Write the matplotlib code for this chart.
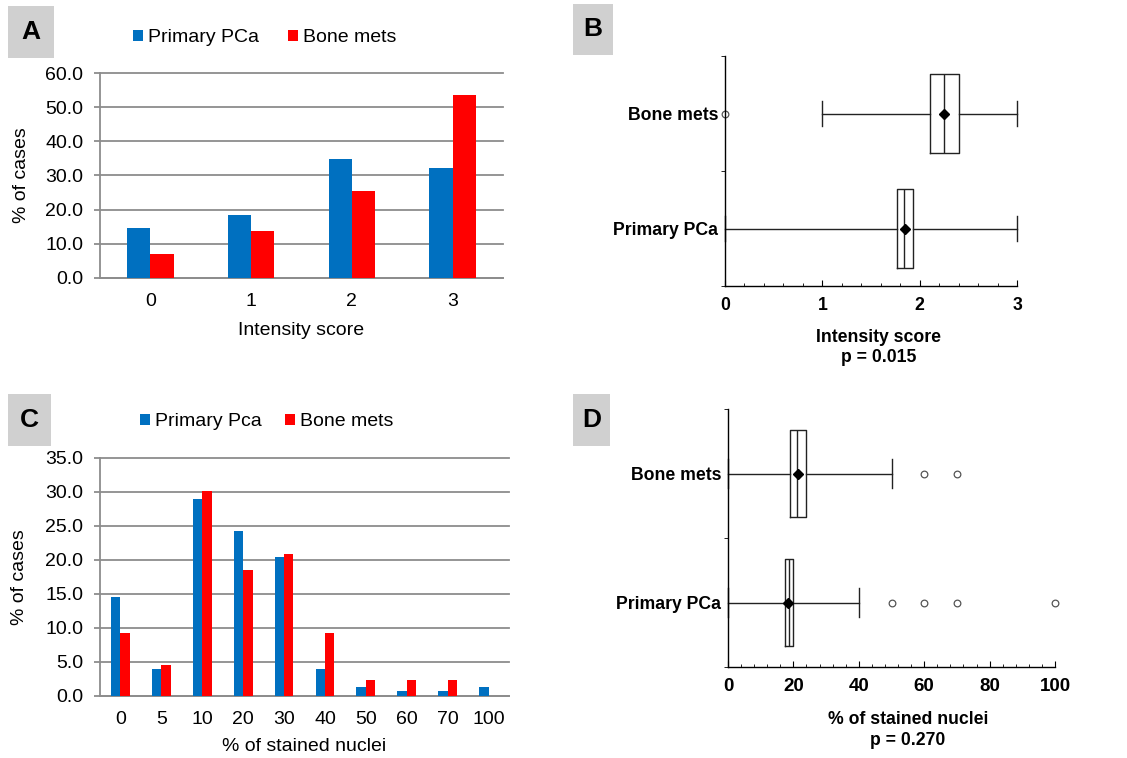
import numpy as np
import matplotlib
matplotlib.use('Agg')
import matplotlib.pyplot as plt
from matplotlib.patches import Rectangle
from matplotlib.ticker import FormatStrFormatter, MultipleLocator

plt.rcParams['font.family'] = ['Liberation Sans', 'DejaVu Sans']

W, H = 1127, 758
BLUE = '#0070C0'
RED = '#FF0000'
GRID = '#8C8C8C'
BOXGRAY = '#D0D0D0'

# Panel A: intensity score distribution (% of cases)
intensity_cats = ['0', '1', '2', '3']
intensity_primary = [14.5, 18.4, 34.7, 32.2]
intensity_bone = [6.9, 13.9, 25.5, 53.5]

# Panel C: % of stained nuclei distribution (% of cases)
nuclei_cats = ['0', '5', '10', '20', '30', '40', '50', '60', '70', '100']
nuclei_primary = [14.5, 3.9, 28.9, 24.3, 20.4, 3.9, 1.3, 0.7, 0.7, 1.3]
nuclei_bone = [9.2, 4.6, 30.2, 18.5, 20.9, 9.2, 2.3, 2.3, 2.3, 0.0]

# Panels B and D: box plot summaries (bottom to top)
box_groups = ['Primary PCa', 'Bone mets']
intensity_box = [
    dict(q1=1.77, med=1.84, q3=1.93, whislo=0.0, whishi=3.0, mean=1.85, fliers=[]),
    dict(q1=2.11, med=2.25, q3=2.40, whislo=1.0, whishi=3.0, mean=2.25, fliers=[0.0]),
]
nuclei_box = [
    dict(q1=17.4, med=18.7, q3=19.8, whislo=0.0, whishi=40.0, mean=18.5, fliers=[50, 60, 70, 100]),
    dict(q1=19.1, med=21.1, q3=23.9, whislo=0.0, whishi=50.0, mean=21.3, fliers=[60, 70]),
]

fig = plt.figure(figsize=(W / 100, H / 100), dpi=100)
fig.patch.set_facecolor('white')


def px_axes(x0, y0, x1, y1):
    return fig.add_axes([x0 / W, 1 - y1 / H, (x1 - x0) / W, (y1 - y0) / H])


def panel_letter(letter, x0, y0, x1, y1):
    fig.add_artist(Rectangle((x0 / W, 1 - y1 / H), (x1 - x0) / W, (y1 - y0) / H,
                             transform=fig.transFigure, facecolor=BOXGRAY, edgecolor='none'))
    fig.text((x0 + x1) / 2 / W, 1 - (y0 + y1) / 2 / H, letter, ha='center', va='center',
             fontsize=19, fontweight='bold')


def bar_panel(rect, cats, prim, bone, ymax, ystep, xlabel, leg_labels, leg_xy, colspace,
              ylab_x, xlab_y):
    ax = px_axes(*rect)
    x = np.arange(len(cats))
    w = 0.23
    ax.bar(x - w / 2, prim, w, color=BLUE, label=leg_labels[0], zorder=3)
    ax.bar(x + w / 2, bone, w, color=RED, label=leg_labels[1], zorder=3)
    ax.set_xlim(-0.5, len(cats) - 0.5)
    ax.set_ylim(0, ymax)
    ax.set_yticks(np.arange(0, ymax + 0.01, ystep))
    ax.yaxis.set_major_formatter(FormatStrFormatter('%.1f'))
    ax.set_xticks(x)
    ax.set_xticklabels(cats)
    ax.grid(axis='y', color=GRID, lw=1.3, zorder=0)
    for gl in ax.get_ygridlines():
        gl.set_clip_on(False)
    for s in ['top', 'right']:
        ax.spines[s].set_visible(False)
    for s in ['left', 'bottom']:
        ax.spines[s].set_color(GRID)
        ax.spines[s].set_linewidth(1.3)
    ax.tick_params(axis='y', colors=GRID, length=4, width=1.3, labelsize=14, labelcolor='black', pad=8)
    ax.tick_params(axis='x', length=0, labelsize=14, pad=11)
    ax.set_ylabel('% of cases', fontsize=14)
    ax.yaxis.set_label_coords(ylab_x, 0.5)
    ax.set_xlabel(xlabel, fontsize=14)
    ax.xaxis.set_label_coords(0.5, xlab_y)
    ax.xaxis.label.set_verticalalignment('center')
    ax.legend(loc='center left', bbox_to_anchor=(leg_xy[0] / W, 1 - leg_xy[1] / H),
              bbox_transform=fig.transFigure, ncol=2, frameon=False, fontsize=14,
              handlelength=0.52, handleheight=0.52, handletextpad=0.26,
              columnspacing=colspace, borderpad=0, borderaxespad=0)
    return ax


def box_panel(rect, stats, xmax, xstep, minor, xlabel, lab_xy, labsize):
    ax = px_axes(*rect)
    line = dict(color='#222222', linewidth=1.0)
    arts = ax.bxp(stats, positions=[0.5, 1.5], widths=0.68, orientation='horizontal',
                  showmeans=True, capwidths=0.22, manage_ticks=False,
                  boxprops=line, whiskerprops=line, capprops=line, medianprops=line,
                  meanprops=dict(marker='D', markerfacecolor='black', markeredgecolor='black',
                                 markersize=5.5),
                  flierprops=dict(marker='o', markerfacecolor='white', markeredgecolor='#555555',
                                  markersize=4.8, markeredgewidth=0.9))
    for key in arts:
        for a in arts[key]:
            a.set_clip_on(False)
    ax.set_xlim(0, xmax)
    ax.set_ylim(0, 2)
    ax.set_xticks(np.arange(0, xmax + 0.01, xstep))
    ax.xaxis.set_minor_locator(MultipleLocator(minor))
    ax.set_yticks([0.5, 1.5])
    ax.set_yticklabels(box_groups)
    ax.set_yticks([0, 1, 2], minor=True)
    for s in ['top', 'right']:
        ax.spines[s].set_visible(False)
    for s in ['left', 'bottom']:
        ax.spines[s].set_linewidth(1.0)
    ax.tick_params(axis='y', which='major', length=0, pad=5, labelsize=12.7)
    ax.tick_params(axis='y', which='minor', length=3, direction='out')
    ax.tick_params(axis='x', which='major', length=4, direction='in', pad=8, labelsize=labsize)
    ax.tick_params(axis='x', which='minor', length=2.5, direction='in')
    for t in ax.get_xticklabels() + ax.get_yticklabels():
        t.set_fontweight('bold')
    ax.set_xlabel(xlabel, fontsize=12.7, fontweight='bold', linespacing=1.25)
    ax.xaxis.set_label_coords(lab_xy[0], lab_xy[1])
    ax.xaxis.label.set_verticalalignment('center')
    return ax


# A
panel_letter('A', 8, 6, 54, 58)
bar_panel((100, 73, 503, 278), intensity_cats, intensity_primary, intensity_bone, 60, 10,
          'Intensity score', ['Primary PCa', 'Bone mets'], (133, 38), 1.48, -0.174, -0.255)

# B
panel_letter('B', 573, 4, 613, 55)
box_panel((725, 56, 1017, 286), intensity_box, 3, 1, 0.2,
          'Intensity score\np = 0.015', (0.527, -0.268), 12.7)

# C
panel_letter('C', 8, 394, 51, 446)
bar_panel((100, 458, 509, 696), nuclei_cats, nuclei_primary, nuclei_bone, 35, 5,
          '% of stained nuclei', ['Primary Pca', 'Bone mets'], (140, 422), 1.18, -0.176, -0.214)

# D
panel_letter('D', 573, 394, 610, 446)
box_panel((728, 409, 1055, 667), nuclei_box, 100, 20, 4,
          '% of stained nuclei\np = 0.270', (0.55, -0.244), 13.5)

fig.savefig('out.png', dpi=100, facecolor='white')
